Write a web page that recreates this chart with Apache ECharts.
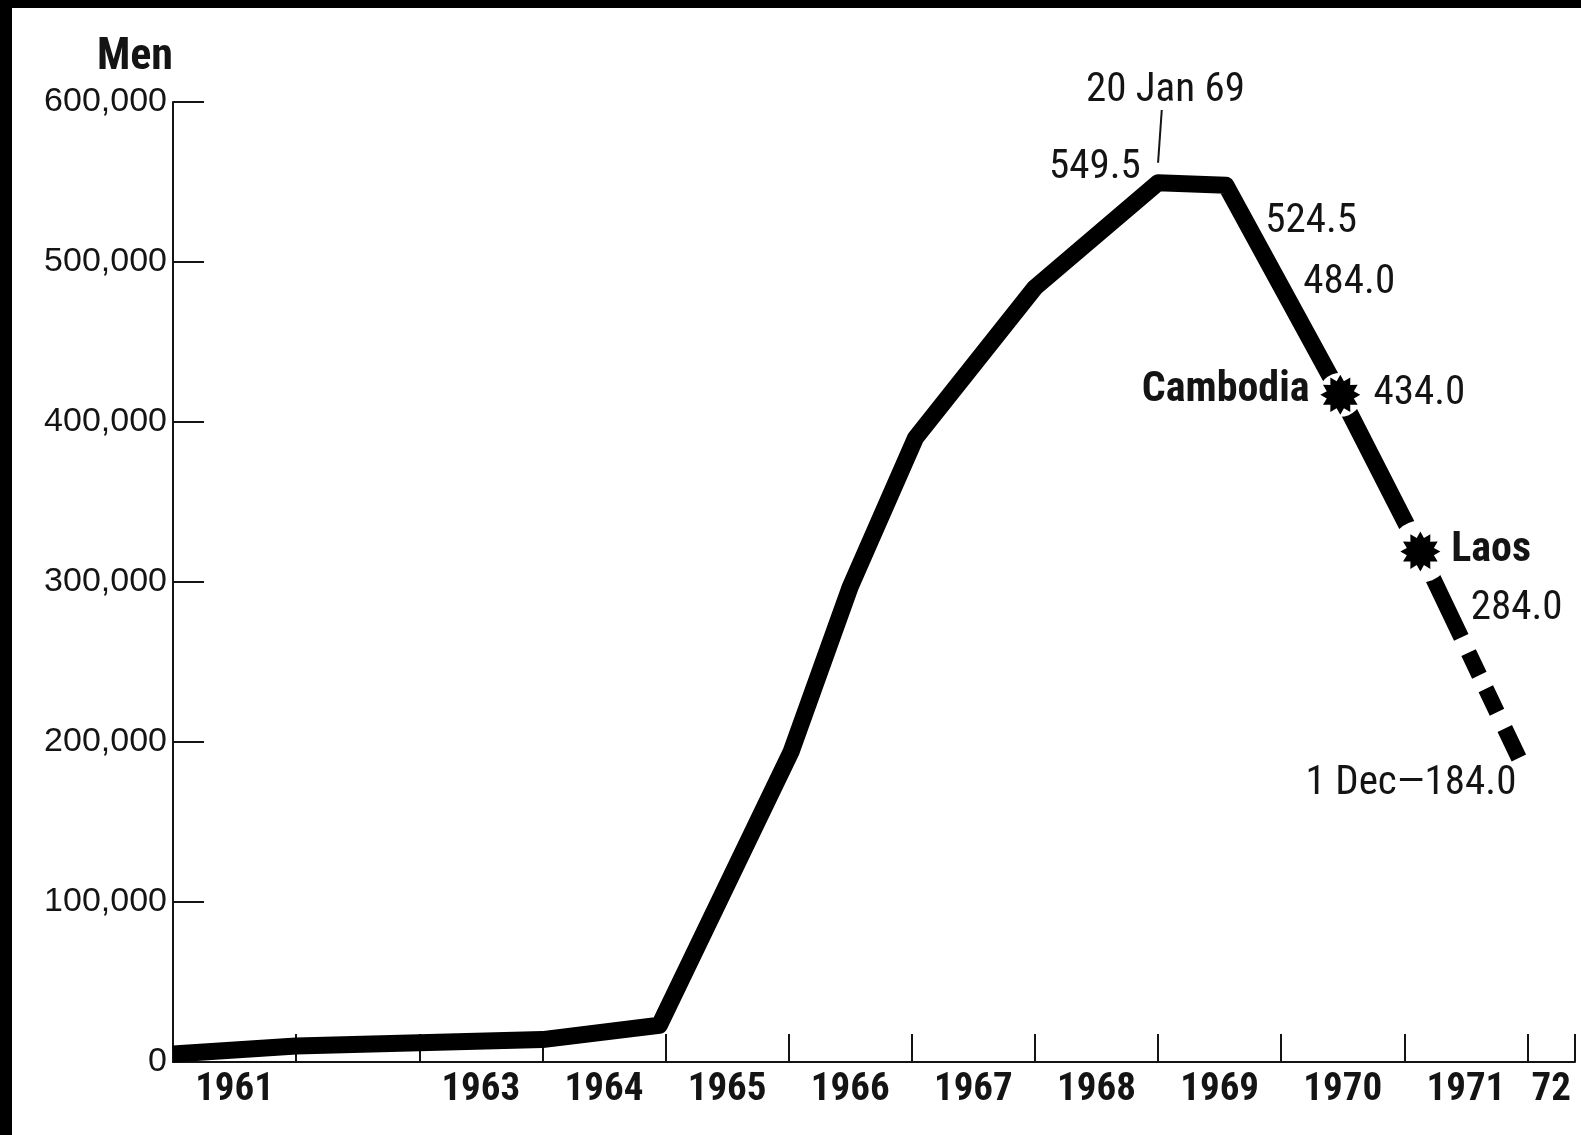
<!DOCTYPE html>
<html><head><meta charset="utf-8">
<script src="https://cdn.jsdelivr.net/npm/echarts@6/dist/echarts.min.js"></script>
<style>
html,body{margin:0;padding:0;background:#000;width:1581px;height:1135px;overflow:hidden}
#chart{position:absolute;left:12px;top:8px;width:1569px;height:1127px;background:#fff}
</style></head><body><div id="chart"></div>
<script>
// ---- data (US military strength in South Vietnam, men) ----
const years  = [1961.0, 1962.0, 1963.0, 1964.0, 1964.95, 1966.02, 1966.5, 1967.03, 1968.0, 1969.0, 1969.55, 1970.48, 1971.13, 1971.93];
const troops = [5000,   10000,  12000,  14000,  23000,   194000,  297000, 390000,  484000, 549500, 548000,  417000,  319000,  190000];
const cambodiaIdx = 11;
const laosIdx = 12;

const yMax = 600000, yStep = 100000;
const tickYears = [1961,1962,1963,1964,1965,1966,1967,1968,1969,1970,1971,1972];
const xEnd = 1972.386;
const yearLabels = ['1961','1963','1964','1965','1966','1967','1968','1969','1970','1971','72'];
const yearLabelYears = [1961,1963,1964,1965,1966,1967,1968,1969,1970,1971,1972];

// annotation texts and their anchor points (data space)
const noteTexts  = ['20 Jan 69','549.5','524.5','484.0','Cambodia','434.0','Laos','284.0','1 Dec\u2014184.0'];
const noteYears  = [1969.06, 1968.86, 1969.87, 1970.18, 1970.23, 1970.75, 1971.38, 1971.54, 1971.91];
const noteValues = [607000, 559000, 525000, 487000, 419500, 417600, 319500, 283000, 174000];
const noteAlign  = ['center','right','left','left','right','left','left','left','right'];
const noteBold   = [false,false,false,false,true,false,true,false,false];
const leaderYears  = [1969.03, 1969.0];
const leaderValues = [595000, 562000];

// ---- build ----
const COND = '"Roboto Condensed","Open Sans Condensed","DejaVu Sans Condensed",sans-serif';
const INK = '#141414';
function starPath(n, rIn){
  let d = '';
  for (let i = 0; i < 2*n; i++){
    const r = i % 2 === 0 ? 1 : rIn;
    const a = Math.PI * i / n - Math.PI/2;
    d += (i === 0 ? 'M' : 'L') + (r*Math.cos(a)).toFixed(4) + ' ' + (r*Math.sin(a)).toFixed(4) + ' ';
  }
  return 'path://' + d + 'Z';
}
const STAR = starPath(12, 0.7);

const pts = years.map((x,i)=>[x, troops[i]]);
const solidPts = pts.slice(0, laosIdx + 1);
const dashedPts = pts.slice(laosIdx);
const xLabelVals = yearLabelYears.map((y,i)=> i === yearLabelYears.length-1 ? (y + xEnd)/2 : y + 0.5);

const chart = echarts.init(document.getElementById('chart'), null, {renderer:'canvas'});
chart.setOption({
  animation:false,
  backgroundColor:'#fff',
  grid:{left:161, right:6, top:94, bottom:73, containLabel:false, outerBoundsMode:'none'},
  xAxis:{
    type:'value', min:1961, max:xEnd,
    splitLine:{show:false},
    axisLine:{show:true, onZero:true, lineStyle:{color:INK, width:2}},
    axisTick:{show:true, inside:true, length:28, lineStyle:{color:INK, width:2}, customValues: tickYears.concat([xEnd])},
    axisLabel:{
      show:true, customValues: xLabelVals, margin:9,
      fontFamily:COND, fontWeight:'bold', fontSize:39, color:INK,
      formatter:(v)=>{ const i = xLabelVals.findIndex(t=>Math.abs(t-v)<1e-6); return i>=0 ? yearLabels[i] : ''; }
    }
  },
  yAxis:{
    type:'value', min:0, max:yMax, interval:yStep,
    name:'Men', nameLocation:'end', nameGap:22,
    nameTextStyle:{fontFamily:COND, fontWeight:'bold', fontSize:44, color:INK, align:'right', verticalAlign:'bottom'},
    splitLine:{show:false},
    axisLine:{show:true, lineStyle:{color:INK, width:2}},
    axisTick:{show:true, inside:true, length:31, lineStyle:{color:INK, width:2}},
    axisLabel:{margin:6, fontFamily:'"Liberation Sans",Arial,sans-serif', fontSize:34, color:INK,
      formatter:(v)=> v.toLocaleString('en-US')}
  },
  series:[
    {type:'line', data:solidPts, symbol:'none', z:3,
     lineStyle:{color:'#000', width:17, cap:'butt', join:'round'}},
    {type:'line', data:dashedPts, symbol:'none', z:3,
     lineStyle:{color:'#000', width:16, cap:'butt', type:[95,17,25,15,26,18,40], dashOffset:0}},
    {type:'line', data:leaderYears.map((x,i)=>[x, leaderValues[i]]), symbol:'none', clip:false, z:3,
     lineStyle:{color:INK, width:2}},
    {type:'scatter', z:4, clip:false, symbol:'circle', silent:true,
     itemStyle:{color:'#fff', opacity:1},
     data:[
       {value:pts[cambodiaIdx], symbolSize:44},
       {value:pts[laosIdx], symbolSize:62}
     ]},
    {type:'scatter', z:5, clip:false, symbol:STAR, symbolSize:40, silent:true,
     itemStyle:{color:'#000', opacity:1},
     data:[pts[cambodiaIdx], pts[laosIdx]]},
    {type:'scatter', z:6, clip:false, symbolSize:1, silent:true,
     itemStyle:{color:'rgba(255,255,255,0)', opacity:1},
     data: noteTexts.map((t,i)=>({
       value:[noteYears[i], noteValues[i]],
       label:{show:true, position:'inside', formatter:t, align:noteAlign[i], verticalAlign:'middle', opacity:1,
         fontFamily:COND, fontSize: noteBold[i] ? 42 : 41, fontWeight: noteBold[i] ? 'bold' : 'normal', color:INK}
     }))}
  ]
});
</script></body></html>
